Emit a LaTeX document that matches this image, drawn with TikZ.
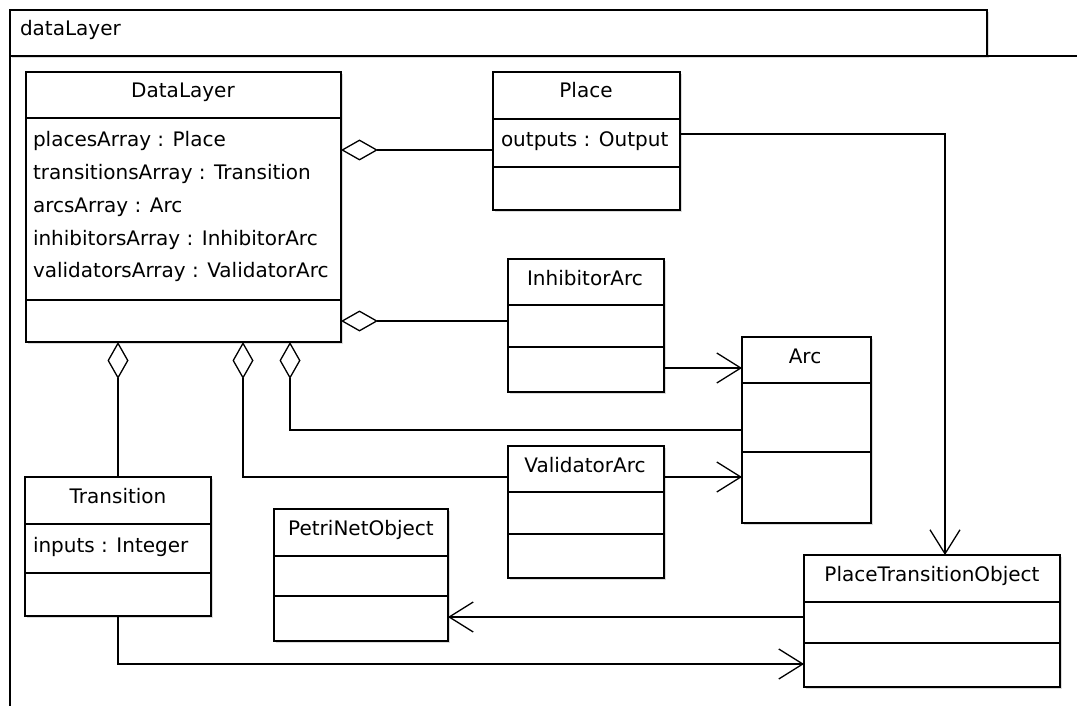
\documentclass[tikz,border=0pt]{standalone}
\usepackage{fontspec}
\setmainfont{DejaVu Sans}
\usetikzlibrary{arrows.meta,shadows}

% a class box: name, left, top, right, first divider, second divider, bottom
\newcommand{\umlclass}[7]{%
  \node[classbox, minimum width={#4-#2}, minimum height={#7-#3}] (#1) at (#2,#3) {};
  \draw[divider] (#2,#5) -- (#4,#5);
  \draw[divider] (#2,#6) -- (#4,#6);}

\begin{document}
\begin{tikzpicture}[x=1pt,y=-1pt,
  every node/.style={font=\fontsize{20}{24}\selectfont, inner sep=0pt, outer sep=0pt},
  softshadow/.style={drop shadow={shadow xshift=1.6pt, shadow yshift=-1.6pt, opacity=0.28}},
  classbox/.style={draw, rectangle, line width=1.6pt, fill=white, anchor=north west, softshadow},
  divider/.style={line width=1.4pt},
  title/.style={anchor=base},
  attr/.style={anchor=base west},
  conn/.style={line width=1.3pt},
  agg/.style={conn, {Diamond[open, length=37pt, width=21pt]}-},
  dep/.style={conn, -{Straight Barb[length=24pt, width=30pt]}}]

\useasboundingbox (0,0) rectangle (1077,706);
\fill[white] (0,0) rectangle (1077,706);

% package frame with its name tab
\node[draw, rectangle, line width=1.6pt, fill=white, anchor=north west,
      minimum width=977, minimum height=46, softshadow] (pkgtab) at (10,10) {};
\draw[line width=1.6pt] (1077,56) -- (pkgtab.south west) -- (10,706);
\node[attr] (pkglabel) at (20,36) {dataLayer};

% DataLayer
\umlclass{dl}{26}{72}{341}{118}{300}{342}
\node[title] (dl-t) at (183,98) {DataLayer};
\node[attr] (dl-a1) at (33,147) {placesArray : Place};
\node[attr] (dl-a2) at (33,179) {transitionsArray : Transition};
\node[attr] (dl-a3) at (33,212) {arcsArray : Arc};
\node[attr] (dl-a4) at (33,245) {inhibitorsArray : InhibitorArc};
\node[attr] (dl-a5) at (33,277) {validatorsArray : ValidatorArc};

% Place
\umlclass{place}{493}{72}{680}{119}{167}{210}
\node[title] (place-t) at (586,98) {Place};
\node[attr] (place-a1) at (501,147) {outputs : Output};

% InhibitorArc
\umlclass{inh}{508}{259}{664}{305}{347}{392}
\node[title] (inh-t) at (585,285) {InhibitorArc};

% Arc
\umlclass{arc}{742}{337}{871}{383}{452}{523}
\node[title] (arc-t) at (805,363) {Arc};

% ValidatorArc
\umlclass{val}{508}{446}{664}{492}{534}{578}
\node[title] (val-t) at (585,472) {ValidatorArc};

% Transition
\umlclass{tr}{25}{477}{211}{524}{573}{616}
\node[title] (tr-t) at (118,503) {Transition};
\node[attr] (tr-a1) at (33,552) {inputs : Integer};

% PetriNetObject
\umlclass{pno}{274}{509}{448}{556}{596}{641}
\node[title] (pno-t) at (361,535) {PetriNetObject};

% PlaceTransitionObject
\umlclass{pto}{804}{555}{1060}{602}{643}{687}
\node[title] (pto-t) at (932,581) {PlaceTransitionObject};

% aggregations held by DataLayer
\draw[agg] (dl.east |- 0,150) -- (place.west |- 0,150);
\draw[agg] (dl.east |- 0,321) -- (inh.west |- 0,321);
\draw[agg] (dl.south -| 118,0) -- (tr.north -| 118,0);
\draw[agg] (dl.south -| 243,0) |- (val.west |- 0,477);
\draw[agg] (dl.south -| 290,0) |- (arc.west |- 0,430);

% navigable associations
\draw[dep] (place.east |- 0,134) -| (pto.north -| 945,0);
\draw[dep] (inh.east |- 0,368) -- (arc.west |- 0,368);
\draw[dep] (val.east |- 0,477) -- (arc.west |- 0,477);
\draw[dep] (pto.west |- 0,617) -- (pno.east |- 0,617);
\draw[dep] (tr.south -| 118,0) |- (pto.west |- 0,664);
\end{tikzpicture}
\end{document}
